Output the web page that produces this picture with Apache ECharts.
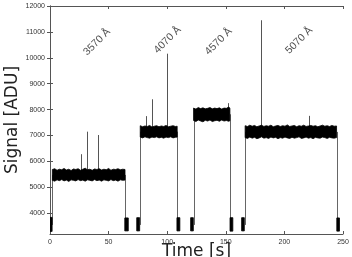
<!DOCTYPE html>
<html><head><meta charset="utf-8">
<script src="https://cdn.jsdelivr.net/npm/echarts@6/dist/echarts.min.js"></script>
<style>html,body{margin:0;padding:0;background:#fff}#c{width:352px;height:257px}</style>
</head><body><div id="c"></div>
<script>
// ---- data ----
const yTicks = [4000,5000,6000,7000,8000,9000,10000,11000,12000];
const xTicks = [0,50,100,150,200,250];

const band3570T  = [2,4,6,8,10,12,14,16,18,20,22,24,26,28,30,32,34,36,38,40,42,44,46,48,50,52,54,56,58,60,62,64];
const band3570Hi = [5690,5720,5660,5700,5680,5730,5670,5700,5650,5710,5690,5720,5660,5700,5740,5680,5700,5660,5710,5690,5720,5670,5700,5680,5730,5660,5700,5690,5720,5680,5700,5690];
const band3570Lo = [5270,5240,5290,5260,5300,5250,5280,5230,5290,5270,5250,5300,5260,5280,5240,5290,5270,5250,5300,5260,5280,5240,5290,5270,5250,5300,5260,5280,5240,5290,5270,5280];

const band4070T  = [77,79,81,83,85,87,89,91,93,95,97,99,101,103,105,107,108.5];
const band4070Hi = [7380,7340,7370,7350,7390,7330,7360,7380,7340,7370,7350,7390,7340,7360,7380,7350,7360];
const band4070Lo = [6940,6910,6950,6920,6900,6940,6920,6950,6910,6930,6900,6940,6920,6950,6910,6930,6940];

const band4570T  = [122.5,124.5,126.5,128.5,130.5,132.5,134.5,136.5,138.5,140.5,142.5,144.5,146.5,148.5,150.5,152.5,153.5];
const band4570Hi = [8060,8020,8080,8040,8070,8030,8050,8080,8030,8060,8040,8070,8020,8060,8050,8100,8060];
const band4570Lo = [7580,7540,7600,7560,7530,7590,7560,7600,7540,7570,7590,7550,7600,7560,7580,7550,7570];

const band5070T  = [166.5,168.5,170.5,172.5,174.5,176.5,178.5,180.5,182.5,184.5,186.5,188.5,190.5,192.5,194.5,196.5,198.5,200.5,202.5,204.5,206.5,208.5,210.5,212.5,214.5,216.5,218.5,220.5,222.5,224.5,226.5,228.5,230.5,232.5,234.5,236.5,238.5,240.5,242.5,244.5];
const band5070Hi = [7380,7350,7400,7360,7390,7340,7370,7400,7350,7380,7360,7400,7340,7370,7390,7350,7380,7360,7410,7350,7370,7390,7340,7380,7360,7400,7350,7370,7390,7360,7380,7340,7370,7400,7360,7380,7350,7390,7360,7370];
const band5070Lo = [6920,6890,6940,6900,6930,6880,6910,6950,6900,6920,6890,6940,6910,6930,6880,6920,6900,6940,6910,6890,6930,6900,6920,6950,6890,6910,6940,6900,6920,6880,6930,6910,6900,6940,6920,6890,6930,6910,6900,6920];

// dark-signal clusters: start time, end time, low, high
const clusterT0 = [0, 63.8, 74, 108.3, 120, 153.6, 163.5, 244.7];
const clusterT1 = [1.8, 66.8, 76.5, 110.8, 122.3, 156, 165.8, 247];
const clusterLo = [3300, 3320, 3320, 3320, 3320, 3310, 3320, 3310];
const clusterHi = [3840, 3820, 3830, 3830, 3830, 3830, 3830, 3820];

// shutter transitions: time, from, to
const stepT    = [2, 64, 77, 108.5, 122.5, 153.5, 166.5, 244.5];
const stepFrom = [3550, 5480, 3550, 7150, 3550, 7820, 3550, 7140];
const stepTo   = [5480, 3550, 7150, 3550, 7820, 3550, 7140, 3550];

// cosmic-ray spikes
const spikeT    = [26.4, 31.9, 40.7, 81.7, 86.8, 100.1, 151.6, 179.8, 221];
const spikeBase = [5450, 5450, 5450, 7150, 7150, 7150, 7820, 7140, 7140];
const spikeTop  = [6280, 7150, 7020, 7750, 8400, 10160, 8250, 11450, 7760];

// wavelength annotations
const labelText = ['3570 Å', '4070 Å', '4570 Å', '5070 Å'];
const labelT    = [40.1, 100.3, 143.8, 212.5];
const labelV    = [10610, 10690, 10630, 10670];

// ---- build polygons ----
const bands = [
  [band3570T, band3570Hi, band3570Lo],
  [band4070T, band4070Hi, band4070Lo],
  [band4570T, band4570Hi, band4570Lo],
  [band5070T, band5070Hi, band5070Lo]
];
const polys = [];
bands.forEach(b => {
  const pts = [];
  b[0].forEach((t, i) => pts.push([t, b[1][i]]));
  for (let i = b[0].length - 1; i >= 0; i--) pts.push([b[0][i], b[2][i]]);
  polys.push(pts);
});
clusterT0.forEach((t0, i) => {
  polys.push([[t0, clusterHi[i]], [clusterT1[i], clusterHi[i]], [clusterT1[i], clusterLo[i]], [t0, clusterLo[i]]]);
});

const segs = [];
stepT.forEach((t, i) => segs.push([t, stepFrom[i], t, stepTo[i], 0]));
spikeT.forEach((t, i) => segs.push([t, spikeBase[i], t, spikeTop[i], 1]));

const chart = echarts.init(document.getElementById('c'), null, {renderer: 'canvas'});
const tickFont = {fontSize: 7, color: '#333', fontFamily: 'Liberation Sans', formatter: v => String(v)};
chart.setOption({
  animation: false,
  grid: {left: 50, right: 9, top: 6, bottom: 23, containLabel: false, outerBoundsMode: 'none'},
  xAxis: [{
    type: 'value', min: 0, max: 250, interval: 50, position: 'bottom',
    name: 'Time [s]', nameLocation: 'middle', nameGap: 9, nameMoveOverlap: false,
    nameTextStyle: {fontSize: 17, fontFamily: 'DejaVu Sans', color: '#222'},
    axisLine: {lineStyle: {color: '#555', width: 1}},
    axisTick: {inside: true, length: 3, lineStyle: {color: '#555'}},
    axisLabel: Object.assign({margin: 5}, tickFont),
    splitLine: {show: false}
  }, {
    type: 'value', min: 0, max: 250, interval: 50, position: 'top',
    axisLine: {lineStyle: {color: '#555', width: 1}},
    axisTick: {inside: true, length: 3, lineStyle: {color: '#555'}},
    axisLabel: {show: false}, splitLine: {show: false}
  }],
  yAxis: [{
    type: 'value', min: 3200, max: 12000, position: 'left',
    name: 'Signal [ADU]', nameLocation: 'middle', nameGap: 28.5, nameMoveOverlap: false,
    nameTextStyle: {fontSize: 17, fontFamily: 'DejaVu Sans', color: '#222'},
    axisLine: {show: true, lineStyle: {color: '#555', width: 1}},
    axisTick: {show: true, inside: true, length: 3, customValues: yTicks, lineStyle: {color: '#555'}},
    axisLabel: Object.assign({margin: 5, customValues: yTicks}, tickFont),
    splitLine: {show: false}
  }, {
    type: 'value', min: 3200, max: 12000, position: 'right',
    axisLine: {show: true, lineStyle: {color: '#555', width: 1}},
    axisTick: {show: true, inside: true, length: 3, customValues: yTicks, lineStyle: {color: '#555'}},
    axisLabel: {show: false}, splitLine: {show: false}
  }],
  series: [{
    type: 'custom', xAxisIndex: 0, yAxisIndex: 0, clip: true,
    data: segs,
    renderItem: function (params, api) {
      const p1 = api.coord([api.value(0), api.value(1)]);
      const p2 = api.coord([api.value(2), api.value(3)]);
      return {type: 'line', shape: {x1: Math.round(p1[0]) + 0.5, y1: p1[1], x2: Math.round(p2[0]) + 0.5, y2: p2[1]},
        style: {stroke: api.value(4) ? '#555' : '#666', lineWidth: 1}};
    }
  }, {
    type: 'custom', xAxisIndex: 0, yAxisIndex: 0, clip: true,
    data: polys.map((p, i) => [i]),
    renderItem: function (params, api) {
      const pts = polys[api.value(0)].map(d => api.coord(d));
      return {type: 'polygon', shape: {points: pts}, style: {fill: '#000', stroke: '#000', lineWidth: 0.8}};
    }
  }, {
    type: 'scatter', xAxisIndex: 0, yAxisIndex: 0,
    symbolSize: 1, itemStyle: {color: 'rgba(0,0,0,0)'},
    data: labelText.map((s, i) => ({name: s, value: [labelT[i], labelV[i]]})),
    label: {show: true, position: 'inside', rotate: 45, formatter: '{b}',
      fontSize: 10.5, color: '#222', fontFamily: 'Liberation Sans'}
  }]
});
</script></body></html>
